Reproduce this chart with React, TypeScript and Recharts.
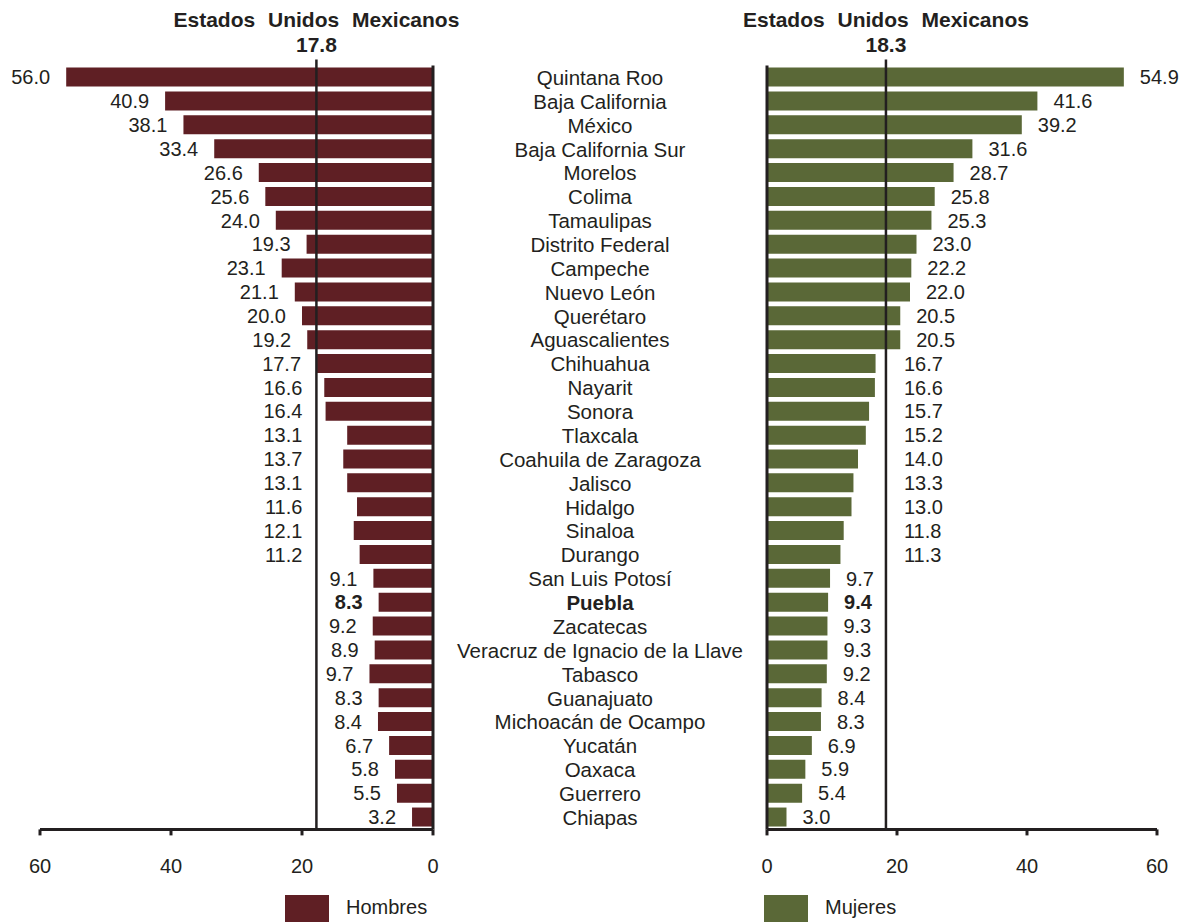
import { Bar, BarChart, LabelList, ReferenceLine, XAxis, YAxis } from "recharts";

const states = [
  "Quintana Roo", "Baja California", "México", "Baja California Sur", "Morelos",
  "Colima", "Tamaulipas", "Distrito Federal", "Campeche", "Nuevo León",
  "Querétaro", "Aguascalientes", "Chihuahua", "Nayarit", "Sonora", "Tlaxcala",
  "Coahuila de Zaragoza", "Jalisco", "Hidalgo", "Sinaloa", "Durango",
  "San Luis Potosí", "Puebla", "Zacatecas", "Veracruz de Ignacio de la Llave",
  "Tabasco", "Guanajuato", "Michoacán de Ocampo", "Yucatán", "Oaxaca",
  "Guerrero", "Chiapas",
];
const hombres = [
  56.0, 40.9, 38.1, 33.4, 26.6, 25.6, 24.0, 19.3, 23.1, 21.1, 20.0, 19.2, 17.7,
  16.6, 16.4, 13.1, 13.7, 13.1, 11.6, 12.1, 11.2, 9.1, 8.3, 9.2, 8.9, 9.7, 8.3,
  8.4, 6.7, 5.8, 5.5, 3.2,
];
const mujeres = [
  54.9, 41.6, 39.2, 31.6, 28.7, 25.8, 25.3, 23.0, 22.2, 22.0, 20.5, 20.5, 16.7,
  16.6, 15.7, 15.2, 14.0, 13.3, 13.0, 11.8, 11.3, 9.7, 9.4, 9.3, 9.3, 9.2, 8.4,
  8.3, 6.9, 5.9, 5.4, 3.0,
];
const xTicks = [0, 20, 40, 60];
const nationalTitle = "Estados Unidos Mexicanos";
const avgHombres = 17.8;
const avgMujeres = 18.3;
const highlight = "Puebla";

const data = states.map((state, i) => ({ state, h: hombres[i], m: mujeres[i] }));

const INK = "#231f20";
const MAROON = "#5f1f24";
const GREEN = "#5a6837";
const FONT = "'Liberation Sans', Arial, sans-serif";
const H = 922;
const MARGIN = { top: 65.6, bottom: 32.6 };

// ancho aproximado del texto (Arial): dígitos 0.556em, punto 0.278em
function textWidth(s: string, size: number) {
  let w = 0;
  for (const c of s) w += c === "." ? 0.278 : 0.556;
  return w * size;
}

/** Etiqueta de valor: se desplaza si choca con la línea del promedio nacional. */
function makeValueLabel(side: "left" | "right", avg: number) {
  return function ValueLabel(props: any) {
    const vb = props.viewBox ?? {};
    const x0 = Number(props.x ?? vb.x ?? 0);
    const w = Number(props.width ?? vb.width ?? 0);
    const y0 = Number(props.y ?? vb.y ?? 0);
    const h = Number(props.height ?? vb.height ?? 0);
    const v = Number(props.value ?? 0);
    if (!v) return null;
    const lo = Math.min(x0, x0 + w);
    const hi = Math.max(x0, x0 + w);
    const per = (hi - lo) / v;
    const label = v.toFixed(1);
    const bold = states[props.index] === highlight;
    const tw = textWidth(label, 20);
    const cy = y0 + h / 2;
    if (side === "left") {
      const refX = hi - avg * per;
      let right = lo - 16;
      if (right > refX - 14 && right - tw < refX + 4) right = refX - 14;
      return (
        <text x={right} y={cy} dy="0.36em" textAnchor="end" fontSize={20}
          fill={INK} fontWeight={bold ? 700 : 400}>{label}</text>
      );
    }
    const refX = lo + avg * per;
    let left = hi + 16;
    if (left < refX + 14 && left + tw > refX - 4) left = refX + 18;
    return (
      <text x={left} y={cy} dy="0.36em" textAnchor="start" fontSize={20}
        fill={INK} fontWeight={bold ? 700 : 400}>{label}</text>
    );
  };
}

function AvgLabel({ viewBox, value }: any) {
  const x = viewBox?.x ?? 0;
  const y = viewBox?.y ?? 0;
  return (
    <g fill={INK} fontWeight={700} textAnchor="middle">
      <text x={x} y={y - 39} fontSize={21} style={{ wordSpacing: 7 }}>{nationalTitle}</text>
      <text x={x} y={y - 14} fontSize={21}>{value}</text>
    </g>
  );
}

// la línea del promedio sobresale un poco por encima del área de trazado
function avgLine(p: any) {
  const top = Math.min(p.y1, p.y2) - 6;
  const bottom = Math.max(p.y1, p.y2);
  return <line x1={p.x1} y1={top} x2={p.x2} y2={bottom} stroke={INK} strokeWidth={2.5} />;
}

// nombre del estado centrado entre los dos ejes de cero
function StateTick(props: any) {
  const name = props.payload?.value;
  return (
    <text x={props.x + props.width / 2} y={props.y} dy="0.36em" textAnchor="middle"
      fontSize={20.5} fill={INK} fontWeight={name === highlight ? 700 : 400}>
      {name}
    </text>
  );
}

const xTick = { fontSize: 20, fill: INK };

export default function App() {
  return (
    <div style={{ position: "absolute", left: 0, top: 0, width: 1188, height: H, fontFamily: FONT, background: "#fff", overflow: "hidden" }}>
      <div style={{ position: "absolute", left: 0, top: 0 }}>
        <BarChart width={767} height={H} data={data} layout="vertical"
          margin={{ top: MARGIN.top, bottom: MARGIN.bottom, left: 40, right: 0 }}>
          <XAxis type="number" domain={[0, 60]} ticks={xTicks} reversed
            axisLine={{ stroke: INK, strokeWidth: 3 }} tickLine={{ stroke: INK, strokeWidth: 3 }}
            tickSize={6} tickMargin={23} height={60} tick={xTick} interval={0} />
          <YAxis type="category" dataKey="state" orientation="right" width={334}
            axisLine={{ stroke: INK, strokeWidth: 3 }} tickLine={false}
            tickSize={0} tickMargin={0} interval={0} tick={<StateTick />} />
          <ReferenceLine x={avgHombres} shape={avgLine} label={<AvgLabel value={avgHombres.toFixed(1)} />} />
          <Bar dataKey="h" name="Hombres" fill={MAROON} barSize={19} isAnimationActive={false}>
            <LabelList dataKey="h" content={makeValueLabel("left", avgHombres)} />
          </Bar>
        </BarChart>
      </div>
      <div style={{ position: "absolute", left: 600, top: 0 }}>
        <BarChart width={588} height={H} data={data} layout="vertical"
          margin={{ top: MARGIN.top, bottom: MARGIN.bottom, left: 0, right: 31 }}>
          <XAxis type="number" domain={[0, 60]} ticks={xTicks}
            axisLine={{ stroke: INK, strokeWidth: 3 }} tickLine={{ stroke: INK, strokeWidth: 3 }}
            tickSize={6} tickMargin={23} height={60} tick={xTick} interval={0} />
          <YAxis type="category" dataKey="state" width={167}
            axisLine={{ stroke: INK, strokeWidth: 3 }} tickLine={false} tick={false} />
          <ReferenceLine x={avgMujeres} shape={avgLine} label={<AvgLabel value={avgMujeres.toFixed(1)} />} />
          <Bar dataKey="m" name="Mujeres" fill={GREEN} barSize={19} isAnimationActive={false}>
            <LabelList dataKey="m" content={makeValueLabel("right", avgMujeres)} />
          </Bar>
        </BarChart>
      </div>
      {[
        { name: "Hombres", color: MAROON, x: 285 },
        { name: "Mujeres", color: GREEN, x: 764 },
      ].map((l) => (
        <div key={l.name} style={{ position: "absolute", left: l.x, top: 895, display: "flex", alignItems: "flex-start" }}>
          <div style={{ width: 44, height: 30, background: l.color }} />
          <span style={{ marginLeft: 17, fontSize: 20, color: INK, lineHeight: "23px", marginTop: 1 }}>{l.name}</span>
        </div>
      ))}
    </div>
  );
}
